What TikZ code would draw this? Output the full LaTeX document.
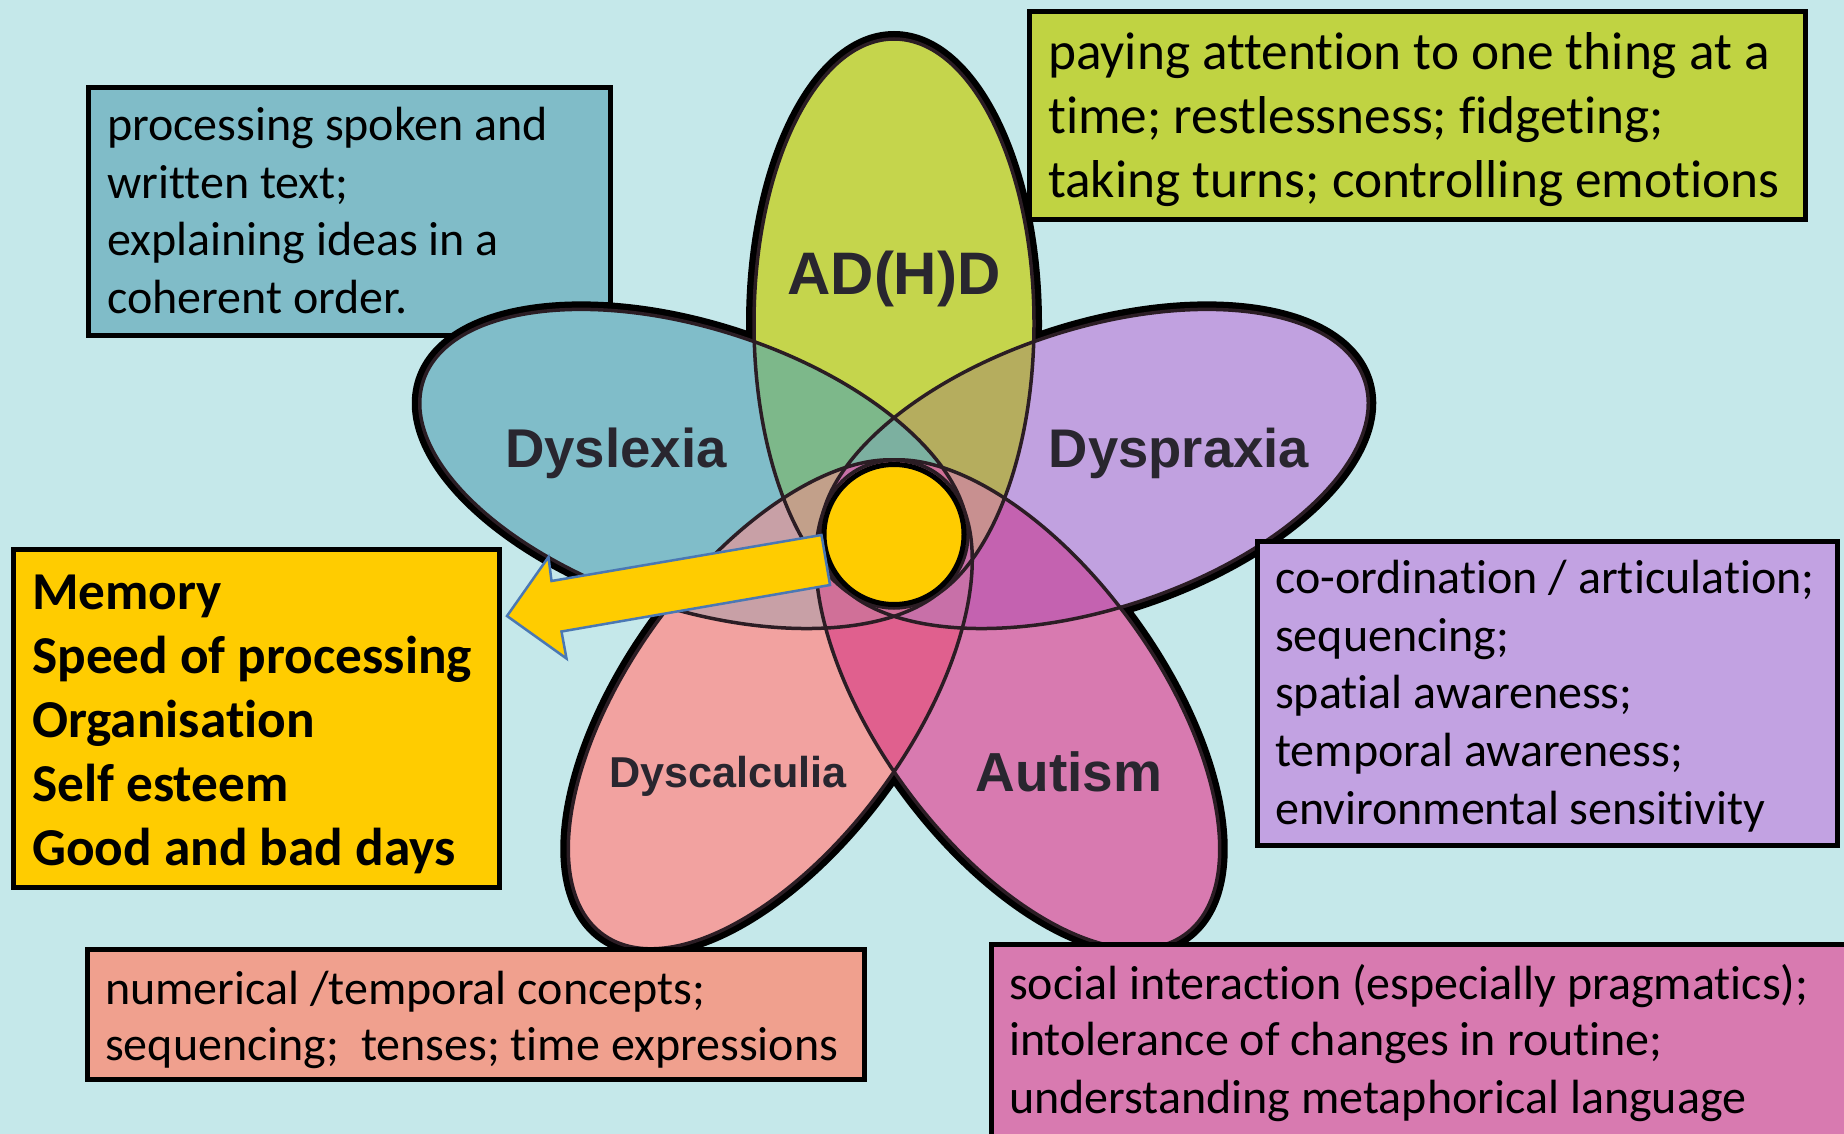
\documentclass[tikz,border=0pt]{standalone}
\usepackage{fontspec}
\setmainfont{Carlito}[Ligatures=NoCommon]
\newfontfamily\labfont{Liberation Sans}
\usetikzlibrary{calc}
\definecolor{bg}{HTML}{C5E8EA}
\definecolor{cH}{HTML}{C5D54C}
\definecolor{cL}{HTML}{80BDC9}
\definecolor{cP}{HTML}{C1A1E0}
\definecolor{cC}{HTML}{F2A2A0}
\definecolor{cU}{HTML}{D87AB0}
\definecolor{cHL}{HTML}{7DB88A}
\definecolor{cHP}{HTML}{B5AD5E}
\definecolor{cPU}{HTML}{C462B0}
\definecolor{cUC}{HTML}{E0608E}
\definecolor{cCL}{HTML}{C8A0A6}
\definecolor{tH}{HTML}{7CB0A0}
\definecolor{tL}{HTML}{C2A08A}
\definecolor{tP}{HTML}{C89090}
\definecolor{tU}{HTML}{C870A8}
\definecolor{tC}{HTML}{D07098}
\definecolor{bL}{HTML}{80BCC8}
\definecolor{bH}{HTML}{C0D342}
\definecolor{bP}{HTML}{C2A2E2}
\definecolor{bC}{HTML}{F0A08E}
\definecolor{bU}{HTML}{D87AB0}
\definecolor{core}{HTML}{FFCC00}
\definecolor{arrowline}{HTML}{4A78B4}
\definecolor{lab}{HTML}{29262F}
\definecolor{thin}{HTML}{2B1D24}
\def\E{(0,0) ellipse [x radius=284.5pt, y radius=140pt]}
\begin{document}
\begin{tikzpicture}[x=1pt,y=-1pt,
  eH/.style={shift={(894,323.5)},rotate=90},
  eL/.style={shift={(693.8,468.96)},rotate=162},
  eP/.style={shift={(1094.2,468.96)},rotate=18},
  eC/.style={shift={(770.27,704.3)},rotate=234},
  eU/.style={shift={(1017.73,704.3)},rotate=306},
  outer/.style={draw=black,line width=16pt},
  inner/.style={draw=thin,line width=3.5pt},
  box/.style={draw=black,line width=5pt,rectangle,inner sep=0pt,outer sep=0pt,anchor=north west},
  txt/.style={anchor=base west,inner sep=0pt,font=\fontsize{48}{57.7}\selectfont},
  big/.style={anchor=base west,inner sep=0pt,font=\fontsize{53.3}{63.5}\selectfont},
  bold/.style={anchor=base west,inner sep=0pt,font=\fontsize{53.3}{64}\selectfont\bfseries},
  petal/.style={anchor=base,inner sep=0pt,text=lab,font=\labfont\bfseries}]
\useasboundingbox (0,0) rectangle (1844,1134);
\clip (0,0) rectangle (1844,1134);
\fill[bg] (0,0) rectangle (1844,1134);
% box behind the flower
\node[box,fill=bL,minimum width=522pt,minimum height=248pt] (dysbox) at (88.5,87.5) {};
\node[txt] (d1) at (107,140.6) {processing spoken and};
\node[txt] (d2) at (107,198.2) {written text;};
\node[txt] (d3) at (107,255.8) {explaining ideas in a};
\node[txt] (d4) at (107,313.5) {coherent order.};
% flower: thick outline
\draw[outer,eH] \E; \draw[outer,eL] \E; \draw[outer,eP] \E; \draw[outer,eC] \E; \draw[outer,eU] \E;
% single fills
\fill[cH,eH] \E; \fill[cL,eL] \E; \fill[cP,eP] \E; \fill[cC,eC] \E; \fill[cU,eU] \E;
% adjacent overlaps
\begin{scope}\clip[eH] \E; \fill[cHL,eL] \E; \end{scope}
\begin{scope}\clip[eH] \E; \fill[cHP,eP] \E; \end{scope}
\begin{scope}\clip[eP] \E; \fill[cPU,eU] \E; \end{scope}
\begin{scope}\clip[eU] \E; \fill[cUC,eC] \E; \end{scope}
\begin{scope}\clip[eC] \E; \fill[cCL,eL] \E; \end{scope}
% non-adjacent overlaps
\begin{scope}\clip[eL] \E; \fill[tH,eP] \E; \end{scope}
\begin{scope}\clip[eH] \E; \fill[tL,eC] \E; \end{scope}
\begin{scope}\clip[eH] \E; \fill[tP,eU] \E; \end{scope}
\begin{scope}\clip[eP] \E; \fill[tU,eC] \E; \end{scope}
\begin{scope}\clip[eU] \E; \fill[tC,eL] \E; \end{scope}
% thin outlines
\draw[inner,eH] \E; \draw[inner,eL] \E; \draw[inner,eP] \E; \draw[inner,eC] \E; \draw[inner,eU] \E;
% petal labels
\node[petal,font=\labfont\bfseries\fontsize{60}{60}\selectfont] (lh) at (894,294.6) {AD(H)D};
\node[petal,font=\labfont\bfseries\fontsize{54.6}{55}\selectfont] (ll) at (616,467.5) {Dyslexia};
\node[petal,font=\labfont\bfseries\fontsize{54.4}{55}\selectfont] (lp) at (1179,467.5) {Dyspraxia};
\node[petal,font=\labfont\bfseries\fontsize{43.2}{44}\selectfont] (lc) at (728,787.6) {Dyscalculia};
\node[petal,font=\labfont\bfseries\fontsize{55}{55}\selectfont] (lu) at (1069,791) {Autism};
% boxes over the flower
\node[box,fill=bH,minimum width=776pt,minimum height=208pt] (adhdbox) at (1029.5,11.5) {};
\node[big] (h1) at (1048,70) {paying attention to one thing at a};
\node[big] (h2) at (1048,133.5) {time; restlessness; fidgeting;};
\node[big] (h3) at (1048,197) {taking turns; controlling emotions};
\node[box,fill=bP,minimum width=580pt,minimum height=304pt] (praxbox) at (1257.5,541.5) {};
\node[txt] (p1) at (1275,593) {co-ordination / articulation;};
\node[txt] (p2) at (1275,651) {sequencing;};
\node[txt] (p3) at (1275,708.6) {spatial awareness;};
\node[txt] (p4) at (1275,766) {temporal awareness;};
\node[txt] (p5) at (1275,824) {environmental sensitivity};
\node[box,fill=core,minimum width=486pt,minimum height=338pt] (corebox) at (13.5,549.5) {};
\node[bold] (k1) at (32,609) {Memory};
\node[bold] (k2) at (32,673) {Speed of processing};
\node[bold] (k3) at (32,737) {Organisation};
\node[bold] (k4) at (32,801) {Self esteem};
\node[bold] (k5) at (32,865) {Good and bad days};
\node[box,fill=bC,minimum width=777pt,minimum height=130pt] (calcbox) at (87.5,949.5) {};
\node[txt] (c1) at (105,1004) {numerical /temporal concepts;};
\node[txt] (c2) at (105,1060) {sequencing;\ \ tenses; time expressions};
\node[box,fill=bU,minimum width=900pt,minimum height=250pt] (autbox) at (991.5,944.5) {};
\node[txt] (u1) at (1009,999) {social interaction (especially pragmatics);};
\node[txt] (u2) at (1009,1055.5) {intolerance of changes in routine;};
\node[txt] (u3) at (1009,1113) {understanding metaphorical language};
% centre
\node[circle,draw=black,line width=5pt,fill=core,minimum size=140pt,inner sep=0pt,outer sep=0pt] (hub) at (894,534.5) {};
% block arrow from the centre to the box
\coordinate (atip) at (507,616);
\coordinate (ahu) at (548.5,557);
\coordinate (aiu) at (551.5,581);
\coordinate (atu) at (821.5,535);
\coordinate (atl) at (830,585);
\coordinate (ail) at (561.5,631.5);
\coordinate (ahl) at (566.5,658.5);
\draw[fill=core,draw=arrowline,line width=2.5pt,line join=miter] (atip) -- (ahu) -- (aiu) -- (atu) -- (atl) -- (ail) -- (ahl) -- cycle;
\end{tikzpicture}
\end{document}
